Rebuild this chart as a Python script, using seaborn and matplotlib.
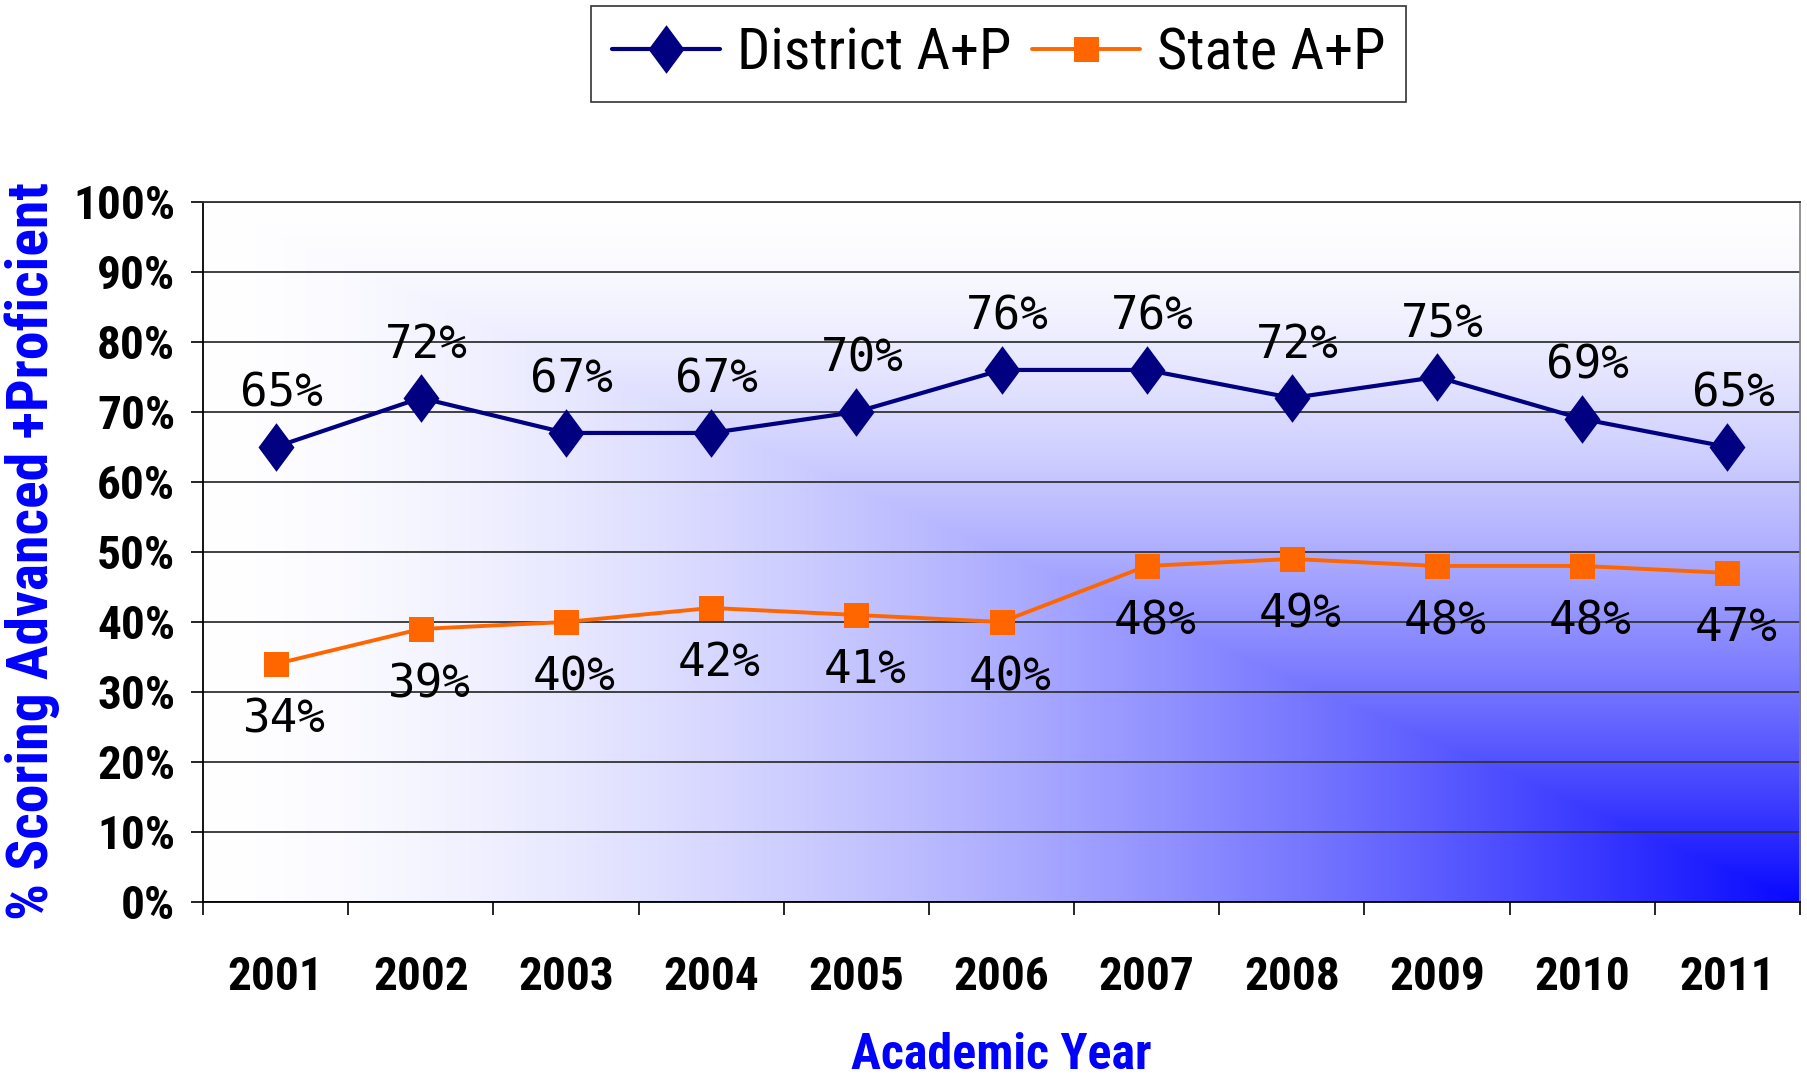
import matplotlib
matplotlib.use("Agg")
import matplotlib.pyplot as plt
from matplotlib import font_manager
from matplotlib.path import Path
import numpy as np
import pandas as pd
import seaborn as sns

years = ["2001", "2002", "2003", "2004", "2005", "2006",
         "2007", "2008", "2009", "2010", "2011"]
district = [65, 72, 67, 67, 70, 76, 76, 72, 75, 69, 65]
state = [34, 39, 40, 42, 41, 40, 48, 49, 48, 48, 47]
y_ticks = [0, 10, 20, 30, 40, 50, 60, 70, 80, 90, 100]

NAVY = "#000080"
ORANGE = "#FF6600"
BLUE = "#0000FF"

# the original uses a condensed Arial; pick a narrow family if there is one
installed = {f.name for f in font_manager.fontManager.ttflist}
narrow = None
for name in ["Liberation Sans Narrow", "Roboto Condensed", "Arial Narrow",
             "Open Sans Condensed", "DejaVu Sans Condensed"]:
    if name in installed:
        narrow = name
        break
if narrow is None:
    narrow = "Liberation Sans"
    scale = 0.84
else:
    scale = 1.0

sns.set_style("white")
plt.rcParams["font.family"] = [narrow, "Liberation Sans", "DejaVu Sans"]
plt.rcParams["text.color"] = "black"
plt.rcParams["xtick.color"] = "black"
plt.rcParams["ytick.color"] = "black"

df = pd.DataFrame({"pos": np.arange(len(years)), "year": years,
                   "District A+P": district, "State A+P": state})

fig = plt.figure(figsize=(18.08, 10.77), dpi=100)
ax = fig.add_axes([0.1123, 0.1625, 0.8833, 0.65])

# background gradient: white top-left -> blue at bottom-right corner
gx, gy = np.meshgrid(np.linspace(0, 1, 400), np.linspace(0, 1, 300))
t = np.maximum(1 - gx, gy)
amount = (1 - t) ** 1.6
img = np.ones((300, 400, 3))
img[..., 0] = 1 - amount * 0.97
img[..., 1] = 1 - amount * 0.97
ax.imshow(img, extent=(0, 1, 0, 1), transform=ax.transAxes,
          origin="lower", aspect="auto", zorder=0, interpolation="bilinear")

diamond = Path([(0, 1), (0.74, 0), (0, -1), (-0.74, 0), (0, 1)],
               [Path.MOVETO, Path.LINETO, Path.LINETO, Path.LINETO, Path.CLOSEPOLY])

sns.lineplot(data=df, x="pos", y="District A+P", ax=ax, color=NAVY,
             linewidth=3, marker=diamond, markersize=35,
             markeredgewidth=0, label="District A+P", zorder=3)
sns.lineplot(data=df, x="pos", y="State A+P", ax=ax, color=ORANGE,
             linewidth=2.8, marker="s", markersize=18,
             markeredgewidth=0, label="State A+P", zorder=3)

# data labels
for i, v in enumerate(district):
    ax.annotate(f"{v}%", (i, v), xytext=(4, 38), textcoords="offset points",
                ha="center", va="center", fontsize=33,
                family="DejaVu Sans Mono", color="black", zorder=4)
for i, v in enumerate(state):
    ax.annotate(f"{v}%", (i, v), xytext=(6, -40), textcoords="offset points",
                ha="center", va="center", fontsize=33,
                family="DejaVu Sans Mono", color="black", zorder=4)

ax.set_xlim(-0.5, len(years) - 0.5)
ax.set_ylim(0, 100)
ax.set_yticks(y_ticks)
ax.set_yticklabels([f"{v}%" for v in y_ticks], fontsize=34 * scale,
                   fontweight="bold")
ax.set_xticks(np.arange(len(years)))
ax.set_xticklabels(years, fontsize=34 * scale, fontweight="bold")
ax.set_xticks(np.arange(len(years) + 1) - 0.5, minor=True)
ax.tick_params(axis="x", which="major", length=0, pad=38)
ax.tick_params(axis="x", which="minor", length=9, width=1.2, direction="out",
               color="black", bottom=True)
ax.tick_params(axis="y", which="major", length=9, width=1.2, direction="out",
               color="black", left=True, pad=11)
ax.yaxis.grid(True, color="#333333", linewidth=1.3, zorder=1)
ax.xaxis.grid(False)
ax.set_xlabel("")
ax.set_ylabel("")

for side in ["left", "bottom"]:
    ax.spines[side].set_color("black")
    ax.spines[side].set_linewidth(1.3)
ax.spines["top"].set_color("#333333")
ax.spines["top"].set_linewidth(1.3)
ax.spines["right"].set_color("#808080")
ax.spines["right"].set_linewidth(1.2)

fig.text(0.5536, 0.0204, "Academic Year", ha="center", va="center",
         fontsize=36 * scale, fontweight="bold", color=BLUE)
fig.text(0.018, 0.488, "% Scoring Advanced +Proficient", ha="center",
         va="center", rotation=90, fontsize=41.5 * scale, fontweight="bold",
         color=BLUE)

leg = ax.legend(loc="upper center", bbox_to_anchor=(0.5525, 0.994),
                bbox_transform=fig.transFigure, ncol=2, frameon=True,
                fancybox=False, edgecolor="black", fontsize=42 * scale,
                handlelength=1.85, handletextpad=0.3, columnspacing=0.35,
                borderpad=0.35, borderaxespad=0)
leg.get_frame().set_linewidth(1.2)
for txt in leg.get_texts():
    txt.set_color("black")

fig.savefig("out.png", dpi=100, facecolor="white")
